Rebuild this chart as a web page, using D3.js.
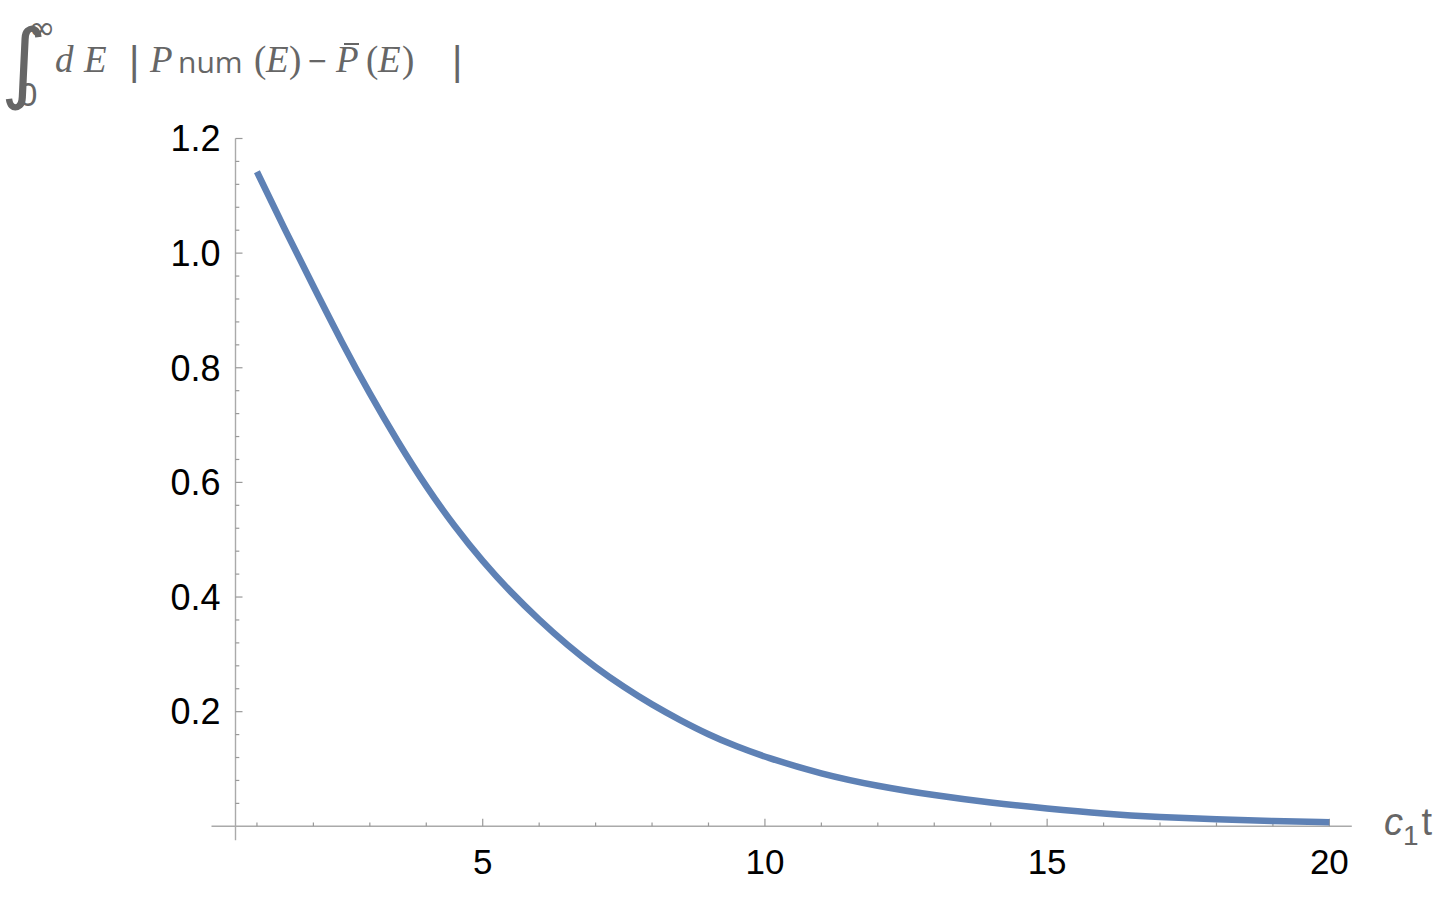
<!DOCTYPE html>
<html>
<head>
<meta charset="utf-8">
<script src="https://cdn.jsdelivr.net/npm/d3@7"></script>
<style>
  body { margin: 0; background: #fff; }
  svg { display: block; }
</style>
</head>
<body>
<div id="chart"></div>
<script>
// values
var ctValues = [1, 1.5, 2, 2.5, 3, 3.5, 4, 4.5, 5, 5.5, 6, 6.5, 7, 7.5, 8, 8.5, 9, 9.5, 10,
                11, 12, 13, 14, 15, 16, 17, 18, 19, 20];
var errValues = [1.142, 1.04, 0.942, 0.845, 0.754, 0.670, 0.592, 0.523, 0.462, 0.408, 0.360, 0.316,
                 0.277, 0.243, 0.212, 0.185, 0.160, 0.139, 0.121,
                 0.091, 0.070, 0.054, 0.041, 0.031, 0.022, 0.016, 0.012, 0.0092, 0.007];
var xTicks = [5, 10, 15, 20];
var yTicks = [0.2, 0.4, 0.6, 0.8, 1.0, 1.2];

var width = 1450, height = 898;
var axisColor = "#aaaaaa", tickColor = "#999999", titleColor = "#666666";
var curveColor = "#5e81b5";

var svg = d3.select("#chart")
  .append("svg")
    .attr("width", width)
    .attr("height", height);

// scales (axis origin sits at c1t = 0.62, like the plot padding)
var x = d3.scaleLinear()
  .domain([0.62, 20.38])
  .range([235.5, 1350.8]);
var y = d3.scaleLinear()
  .domain([0, 1.2])
  .range([826.3, 138.5]);

var x0 = x(0.62), y0 = y(0);

// axis lines (they overshoot a little past the crossing point)
svg.append("line")
  .attr("x1", x0 - 24).attr("x2", x(20.38) + 1)
  .attr("y1", y0).attr("y2", y0)
  .style("stroke", axisColor).style("stroke-width", 1.4);
svg.append("line")
  .attr("x1", x0).attr("x2", x0)
  .attr("y1", y0 + 14).attr("y2", y(1.2))
  .style("stroke", axisColor).style("stroke-width", 1.4);

// minor + major ticks on x
var xMinor = d3.range(1, 21);
svg.append("g").selectAll("line")
  .data(xMinor)
  .enter()
  .append("line")
    .attr("x1", function (d) { return x(d); })
    .attr("x2", function (d) { return x(d); })
    .attr("y1", y0)
    .attr("y2", function (d) { return y0 - (xTicks.indexOf(d) >= 0 ? 7.5 : 3.8); })
    .style("stroke", tickColor).style("stroke-width", 1.2);

// minor + major ticks on y
var yMinor = d3.range(1, 31).map(function (i) { return i * 0.04; });
svg.append("g").selectAll("line")
  .data(yMinor)
  .enter()
  .append("line")
    .attr("x1", x0)
    .attr("x2", function (d, i) { return x0 + ((i + 1) % 5 === 0 ? 7 : 3.8); })
    .attr("y1", function (d) { return y(d); })
    .attr("y2", function (d) { return y(d); })
    .style("stroke", tickColor).style("stroke-width", 1.2);

// tick labels
svg.append("g").selectAll("text")
  .data(xTicks)
  .enter()
  .append("text")
    .attr("x", function (d) { return x(d); })
    .attr("y", y0 + 48)
    .attr("text-anchor", "middle")
    .text(function (d) { return d; })
    .style("font-family", "'Liberation Sans', Arial, sans-serif")
    .style("font-size", "35px")
    .style("fill", "#000");

svg.append("g").selectAll("text")
  .data(yTicks)
  .enter()
  .append("text")
    .attr("x", x0 - 15)
    .attr("y", function (d) { return y(d) + 12.8; })
    .attr("text-anchor", "end")
    .text(function (d) { return d.toFixed(1); })
    .style("font-family", "'Liberation Sans', Arial, sans-serif")
    .style("font-size", "36px")
    .style("fill", "#000");

// the curve
var line = d3.line()
  .x(function (d) { return x(d[0]); })
  .y(function (d) { return y(d[1]); })
  .curve(d3.curveBasis);

svg.append("path")
  .datum(d3.zip(ctValues, errValues))
  .attr("d", line)
  .style("fill", "none")
  .style("stroke", curveColor)
  .style("stroke-width", 6.5)
  .style("stroke-linecap", "butt");

// x axis label  c1 t
var xl = svg.append("text")
  .attr("x", 1384).attr("y", 835)
  .style("font-family", "'Liberation Sans', Arial, sans-serif")
  .style("font-size", "38px")
  .style("fill", titleColor);
xl.append("tspan").style("font-style", "italic").text("c");
xl.append("tspan").attr("dy", 10).style("font-size", "28px").text("1");
xl.append("tspan").attr("dy", -10).attr("dx", 3).text("t");

// y axis label  ∫0^∞ dE |Pnum(E) - Pbar(E)|
var serif = "'Liberation Serif', 'Times New Roman', serif";
var sans = "'Liberation Sans', Arial, sans-serif";
var t = svg.append("g").style("fill", titleColor);

function piece(txt, px, py, size, fam, italic) {
  return t.append("text")
    .attr("x", px).attr("y", py)
    .style("font-family", fam)
    .style("font-size", size + "px")
    .style("font-style", italic ? "italic" : "normal")
    .text(txt);
}

// integral with its limits, kept as one text
var integ = t.append("text")
  .attr("x", 1).attr("y", 92)
  .style("font-family", "'DejaVu Sans', sans-serif");
integ.append("tspan").style("font-size", "88px").text("\u222B");
integ.append("tspan").attr("x", 28).attr("y", 39).style("font-size", "33px").text("\u221E");
integ.append("tspan").attr("x", 19).attr("y", 106)
  .style("font-family", sans).style("font-size", "33px").text("0");

piece("d", 55, 72, 37, serif, true);
piece("E", 84, 72, 37, serif, true);
piece("|", 129, 75, 40, sans, false);
piece("P", 150, 72, 37, serif, true);
piece("num", 178, 73, 30, "'Open Sans', sans-serif", false);
piece("(", 254, 72, 37, serif, false);
piece("E", 266, 72, 37, serif, true);
piece(")", 289, 72, 37, serif, false);
piece("\u2212", 308, 72, 32, sans, false);
piece("P", 336, 72, 37, serif, true);
t.append("line")
  .attr("x1", 344).attr("x2", 359)
  .attr("y1", 44).attr("y2", 44)
  .style("stroke", titleColor).style("stroke-width", 2);
piece("(", 366, 72, 37, serif, false);
piece("E", 378, 72, 37, serif, true);
piece(")", 402, 72, 37, serif, false);
piece("|", 452, 75, 40, sans, false);
</script>
</body>
</html>
